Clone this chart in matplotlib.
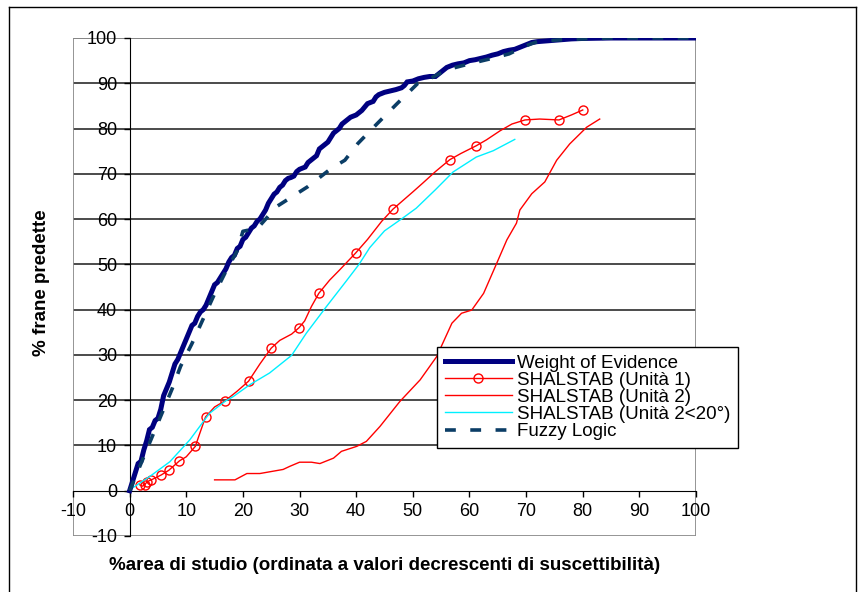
import matplotlib
matplotlib.use("Agg")
import matplotlib.pyplot as plt
from matplotlib.patches import Rectangle
from matplotlib.lines import Line2D

plt.rcParams["font.family"] = ["Liberation Sans", "DejaVu Sans"]
plt.rcParams["axes.unicode_minus"] = False

# --- data ---
woe_x = [0, 0.5, 1, 1.5, 2, 2.5, 3, 3.5, 4, 4.5, 5, 5.5, 6, 6.5, 7, 7.5, 8, 8.5, 9, 9.5,
         10, 10.5, 11, 11.5, 12, 12.5, 13, 13.5, 14, 14.5, 15, 15.5, 16, 16.5, 17, 17.5,
         18, 18.5, 19, 19.5, 20, 20.5, 21, 21.5, 22, 22.5, 23, 23.5, 24, 24.5, 25, 25.5,
         26, 26.5, 27, 27.5, 28, 28.5, 29, 29.5, 30, 31, 31.5, 32, 33, 33.5, 34, 35, 35.5,
         36, 36.5, 37, 37.5, 38, 39, 40, 40.5, 41, 42, 43, 43.5, 44, 45, 46, 47, 48, 48.5,
         49, 50, 51, 52, 53, 54, 55, 56, 57, 58, 59, 60, 61, 62, 63, 64, 65, 66, 67, 68,
         69, 70, 71, 72, 74, 76, 78, 80, 85, 90, 100]
woe_y = [0, 2, 4, 6, 6.5, 9, 11, 13.5, 14, 15.5, 16, 18, 21, 22.5, 24, 26, 28, 29, 30.5, 32,
         33.5, 35, 36.5, 37, 38.5, 39.5, 40, 41, 42.5, 44, 45.5, 46, 47, 48, 49, 50.5,
         51.5, 52, 53.5, 54, 55.5, 56, 57, 58, 58.5, 59.5, 60, 61, 62, 63.5, 64.5, 65.5,
         66, 67, 67.5, 68.5, 69, 69.2, 69.5, 70.5, 71, 71.5, 72.5, 73, 74, 75.5, 76, 77, 78,
         79, 79.5, 80, 81, 81.5, 82.5, 83, 83.5, 84, 85.5, 86, 87, 87.5, 88, 88.3, 88.6, 89, 89.5,
         90.3, 90.5, 91, 91.3, 91.5, 91.5, 92.5, 93.5, 94, 94.3, 94.5, 95, 95.2, 95.5, 95.8, 96.2, 96.5, 97, 97.3, 97.5,
         98, 98.5, 99, 99.2, 99.4, 99.6, 99.8, 99.9, 100, 100, 100]

u1_x = [1.8, 2.3, 2.65, 3.1, 3.8, 4.5, 5.6, 6.9, 8.8, 10, 11.6, 12.2, 13.4, 15, 16.9, 19,
        21.0, 23, 25.0, 26.5, 28.6, 29.9, 30.9, 32.1, 33.4, 35.3, 37.1, 39.9, 42, 44.5,
        46.5, 47.7, 50, 51.8, 54, 56.5, 58.5, 61.2, 63, 65.4, 67.5, 69.8, 72.4, 75.8, 78, 80.0]
u1_y = [1.3, 1.0, 1.3, 2.0, 2.4, 2.8, 3.5, 4.5, 6.6, 7.5, 9.8, 12, 16.3, 18.5, 19.9, 22,
        24.2, 28, 31.5, 33.2, 34.6, 36.0, 37.5, 40.7, 43.6, 46.5, 48.8, 52.5, 55.5, 59.5,
        62.2, 63.5, 66, 68, 70.5, 73.1, 74.5, 76.2, 77.5, 79.5, 81, 81.9, 82.1, 81.9, 83, 84.1]
u1_marks = [0, 2, 3, 4, 6, 7, 8, 10, 12, 14, 16, 18, 21, 24, 27, 30, 35, 37, 41, 43, 45]

u2_x = [15, 18.6, 20.7, 23, 27.1, 28.3, 30, 32.1, 33.6, 36, 37.4, 40.1, 41.8, 44.2, 47.7,
        51.3, 54.2, 56.9, 58.6, 60.4, 62.5, 64.8, 66.6, 68.3, 68.9, 71, 73.3, 75.4, 77.7,
        80.7, 83]
u2_y = [2.4, 2.4, 3.8, 3.8, 4.7, 5.4, 6.3, 6.3, 6.0, 7.2, 8.7, 9.8, 10.9, 14.2, 19.7,
        24.5, 29.6, 37.0, 39.2, 39.9, 43.6, 50.2, 55.4, 59.1, 62, 65.6, 68.2, 73, 76.6,
        80.3, 82.1]

u2s_x = [0, 3.5, 7.1, 10.6, 14.1, 16.9, 18.3, 21.2, 24.7, 26.5, 28.6, 31.2, 34.7, 38.3,
         40.5, 42.4, 45, 48.3, 50.6, 54, 57.1, 61.2, 64.2, 68]
u2s_y = [0.2, 3.1, 6.4, 11.2, 17.1, 19.8, 20.8, 23.4, 26.0, 27.8, 29.9, 34.8, 40.6, 46.4,
         50, 53.7, 57.4, 60.3, 62.4, 66.5, 70.4, 73.7, 75.1, 77.6]

fz_x = [0, 2, 4, 5, 6, 7.5, 9, 11, 13, 15, 17, 19, 20, 22.6, 26, 31.5, 35.6, 38, 40.3,
        43.8, 47.3, 50.9, 53, 56, 60, 64, 67, 70, 72, 76, 85, 100]
fz_y = [0, 6, 12, 15, 18, 22.5, 27.5, 32.5, 38, 43.5, 48.5, 53, 57.3, 58, 62.8, 67.2,
        71.2, 73, 76.7, 81.2, 85.6, 90, 91, 93, 94.3, 95.5, 96.5, 98.3, 99.2, 99.6, 100, 100]

labels = ["Weight of Evidence", "SHALSTAB (Unità 1)", "SHALSTAB (Unità 2)",
          "SHALSTAB (Unità 2<20°)", "Fuzzy Logic"]

W, H = 858, 592
fig = plt.figure(figsize=(W / 100, H / 100), dpi=100)
ax = fig.add_axes([73 / W, 1 - 536 / H, (696 - 73) / W, (536 - 38) / H])
ax.set_xlim(-10, 100)
ax.set_ylim(-10, 100)

for yv in range(10, 101, 10):
    ax.axhline(yv, color="#1a1a1a", lw=1.1, zorder=1)
ax.add_patch(Rectangle((0, 0), 1, 1, transform=ax.transAxes, fill=False,
                       edgecolor="#8c8c8c", lw=1.3, zorder=1))

navy = "#000080"
fzc = "#0b3d66"
ax.plot(woe_x, woe_y, color=navy, lw=3.6, solid_joinstyle="miter", zorder=4)
ax.plot(u1_x, u1_y, color="#ff0000", lw=1.0, marker="o", markevery=u1_marks,
        markersize=6.5, markerfacecolor="none", markeredgecolor="#ff0000",
        markeredgewidth=1.0, zorder=3)
ax.plot(u2_x, u2_y, color="#ff0000", lw=1.0, zorder=3)
ax.plot(u2s_x, u2s_y, color="#00f0ff", lw=1.0, zorder=3)
ax.plot(fz_x, fz_y, color=fzc, lw=2.6, linestyle=(0, (3, 4)), zorder=5)

for s in ("top", "right"):
    ax.spines[s].set_visible(False)
ax.spines["left"].set_position(("data", 0))
ax.spines["bottom"].set_position(("data", 0))
ax.spines["left"].set_color("black")
ax.spines["bottom"].set_color("black")
ax.set_xticks(range(-10, 101, 10))
ax.set_yticks(range(-10, 101, 10))
ax.tick_params(axis="both", direction="out", length=4, width=1, labelsize=13, pad=5)
ax.set_facecolor("white")

handles = [
    Line2D([], [], color=navy, lw=3.6),
    Line2D([], [], color="#ff0000", lw=1.0, marker="o", markersize=6.5,
           markerfacecolor="none", markeredgecolor="#ff0000"),
    Line2D([], [], color="#ff0000", lw=1.0),
    Line2D([], [], color="#00f0ff", lw=1.0),
    Line2D([], [], color=fzc, lw=2.6, linestyle=(0, (3, 4))),
]
leg = ax.legend(handles, labels, loc="upper left",
                bbox_to_anchor=(437 / W, 1 - 347 / H), bbox_transform=fig.transFigure,
                borderaxespad=0, fontsize=13.5, handlelength=3.6, handletextpad=0.25,
                labelspacing=0.0, borderpad=0.4, fancybox=False, framealpha=1,
                edgecolor="black")
leg.get_frame().set_linewidth(1.0)
leg.set_zorder(10)

fig.text(42 / W, 1 - 283 / H, "% frane predette", rotation=90, fontsize=13.5,
         fontweight="bold", ha="center", va="center")
fig.text(385 / W, 1 - 566 / H,
         "%area di studio (ordinata a valori decrescenti di suscettibilità)",
         fontsize=13.5, fontweight="bold", ha="center", va="center")

# outer chart border
for xs, ys in (([9, 9], [7, H]), ([9, 856], [7, 7]), ([856, 856], [7, H])):
    fig.add_artist(Line2D([x / W for x in xs], [1 - y / H for y in ys],
                          color="black", lw=1.0, transform=fig.transFigure))

fig.savefig("out.png", dpi=100)
